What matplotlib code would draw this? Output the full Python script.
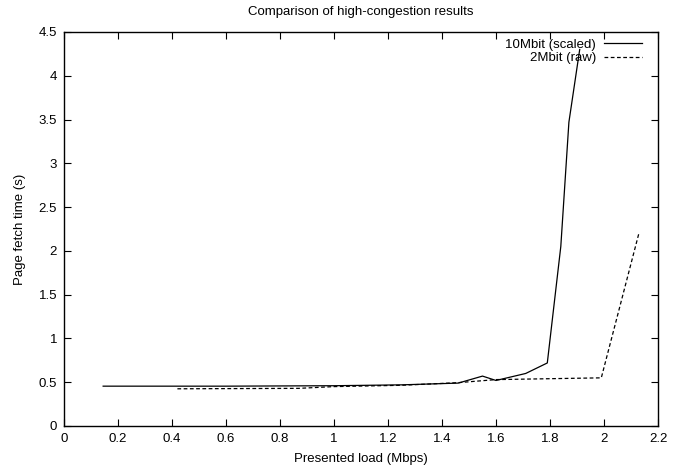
import matplotlib
matplotlib.use('Agg')
import matplotlib.pyplot as plt

plt.rcParams['font.family'] = ['Liberation Sans', 'DejaVu Sans']

# 10Mbit (scaled)
x_10 = [0.145, 0.6, 1.0, 1.25, 1.46, 1.55, 1.60, 1.71, 1.79, 1.84, 1.87, 1.91]
y_10 = [0.455, 0.455, 0.46, 0.47, 0.49, 0.57, 0.52, 0.60, 0.72, 2.05, 3.47, 4.3]

# 2Mbit (raw)
x_2 = [0.42, 0.87, 1.0, 1.25, 1.46, 1.6, 1.99, 2.13]
y_2 = [0.425, 0.43, 0.45, 0.465, 0.495, 0.53, 0.55, 2.21]

xticks = [0, 0.2, 0.4, 0.6, 0.8, 1, 1.2, 1.4, 1.6, 1.8, 2, 2.2]
xtick_labels = ['0', '0.2', '0.4', '0.6', '0.8', '1', '1.2', '1.4', '1.6', '1.8', '2', '2.2']
yticks = [0, 0.5, 1, 1.5, 2, 2.5, 3, 3.5, 4, 4.5]
ytick_labels = ['0', '0.5', '1', '1.5', '2', '2.5', '3', '3.5', '4', '4.5']

fig = plt.figure(figsize=(6.79, 4.68), dpi=100)
ax = fig.add_axes([64 / 679, 42 / 468, 594 / 679, 394 / 468])

ax.plot(x_10, y_10, color='black', linewidth=0.9, linestyle='-', label='10Mbit (scaled)')
ax.plot(x_2, y_2, color='black', linewidth=0.9, linestyle=(0, (3, 2)), label='2Mbit (raw)')

ax.set_xlim(0, 2.2)
ax.set_ylim(0, 4.5)
ax.set_xticks(xticks)
ax.set_xticklabels(xtick_labels)
ax.set_yticks(yticks)
ax.set_yticklabels(ytick_labels)
ax.tick_params(direction='in', length=5, width=0.8, top=True, right=True,
               labelsize=9.5, pad=5)
for s in ax.spines.values():
    s.set_linewidth(1.0)

ax.set_xlabel('Presented load (Mbps)', fontsize=9.5, labelpad=6)
ax.set_ylabel('Page fetch time (s)', fontsize=9.5, labelpad=9)
ax.set_title('Comparison of high-congestion results', fontsize=9.5, pad=12)

ax.legend(loc='upper right', bbox_to_anchor=(1 - 9 / 594, 1), frameon=False,
          markerfirst=False, fontsize=9.5, handlelength=2.9, handletextpad=0.6,
          labelspacing=0.1, borderaxespad=0.3, borderpad=0.2)

fig.savefig('out.png', dpi=100)
